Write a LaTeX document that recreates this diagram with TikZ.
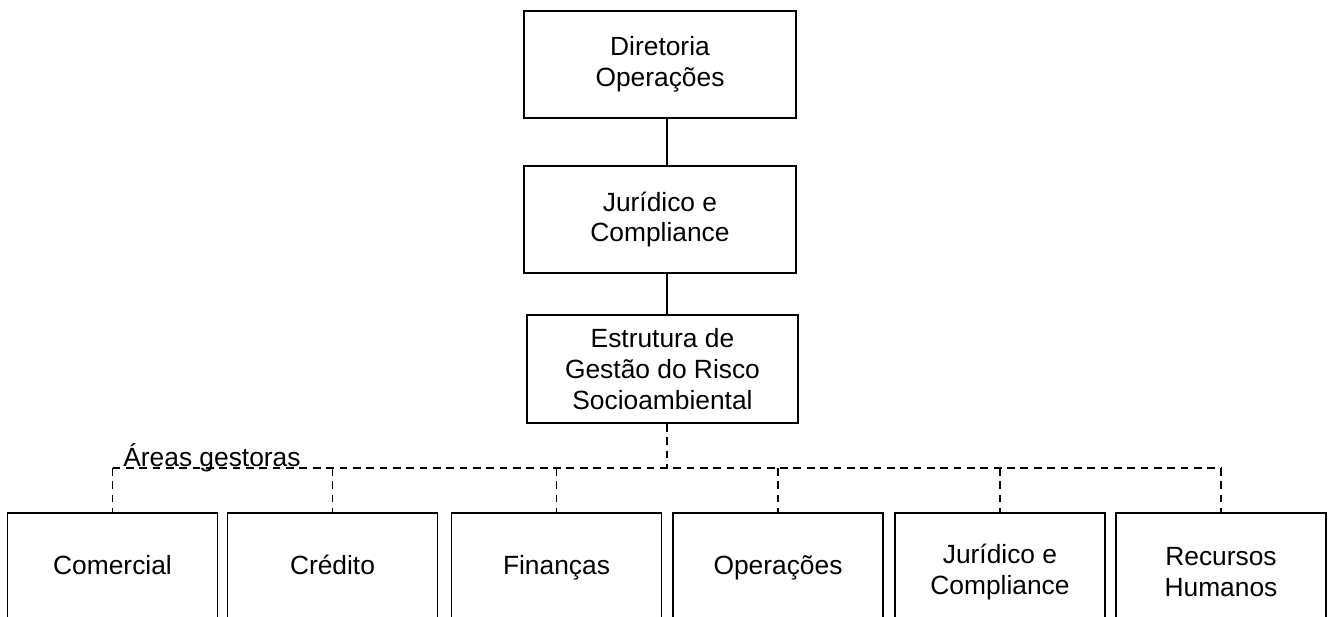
\documentclass[tikz,border=0pt]{standalone}
\usepackage{fontspec}
\setmainfont{Liberation Sans}
\usepackage{tikz}
\usetikzlibrary{calc}

\begin{document}
\begin{tikzpicture}[x=0.02cm, y=-0.02cm, font=\fontsize{15}{17.5}\selectfont,
  every node/.style = {align=center},
  topbox/.style = {draw, line width=1.1pt, minimum width=5.44cm, minimum height=2.14cm},
  areabox/.style = {draw, line width=1.1pt, minimum width=4.2cm, minimum height=2.36cm},
  oneline/.style = {text height=0.72em, text depth=0.2em, minimum height=2.28cm},
  link/.style = {line width=1.1pt},
  dashlink/.style = {line width=1.1pt, dash pattern=on 4.4pt off 3.2pt}]
  \useasboundingbox (0,0) rectangle (1333,616);
  \coordinate (spine) at (667,0);
  \coordinate (bus) at (0,468);
  \node[topbox] (dir) at (660,64.5) {Diretoria\\Operações};
  \node[topbox] (jur) at (660,219.5) {Jurídico e\\Compliance};
  \node[topbox, minimum width=5.42cm, minimum height=2.16cm] (est) at (662.5,369) {Estrutura de\\Gestão do Risco\\Socioambiental};
	\node[areabox, oneline] (com) at (112.5,570) {Comercial};
	\node[areabox, oneline] (cre) at (332.5,570) {Crédito};
	\node[areabox, oneline] (fin) at (556.5,570) {Finanças};
	\node[areabox, oneline] (ope) at (778,570) {Operações};
	\node[areabox] (jca) at (1000,572) {Jurídico e\\Compliance};
	\node[areabox] (rh) at (1221,572) {Recursos\\Humanos};
  \node[anchor=base west, inner sep=0pt] (areas) at (123,466) {Áreas gestoras};
  \draw[link] (dir.south -| spine) -- (jur.north -| spine);
  \draw[link] (jur.south -| spine) -- (est.north -| spine);
  \draw[dashlink] (est.south -| spine) -- (bus -| spine);
  \draw[dashlink] (bus -| com) -- (bus -| rh);
  \foreach \n in {com,cre,fin,ope,jca,rh}
	\draw[dashlink] (bus -| \n) -- (\n.north);
\end{tikzpicture}
\end{document}
